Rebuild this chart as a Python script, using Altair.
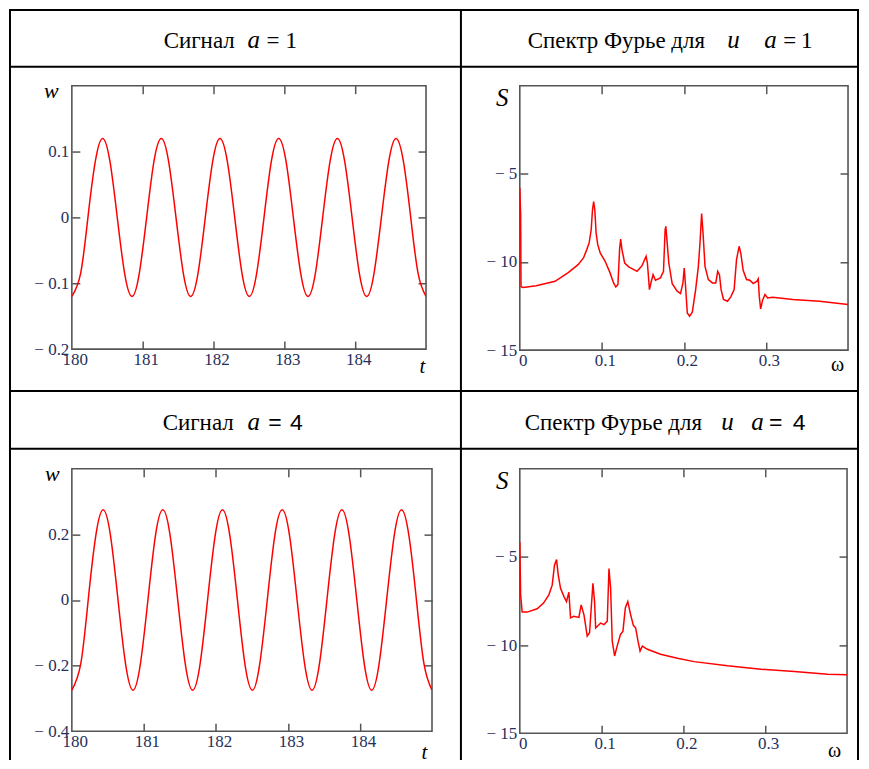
import altair as alt
import pandas as pd

# ---------------- data ----------------
t_vals = [180.0, 180.124, 180.227, 180.331, 180.434, 180.538, 180.641, 180.745,
          180.849, 180.952, 181.056, 181.159, 181.263, 181.366, 181.470, 181.574,
          181.677, 181.781, 181.884, 181.988, 182.091, 182.195, 182.299, 182.402,
          182.506, 182.609, 182.713, 182.816, 182.920, 183.024, 183.127, 183.231,
          183.334, 183.438, 183.541, 183.645, 183.749, 183.852, 183.956, 184.059,
          184.163, 184.266, 184.370, 184.474, 184.577, 184.681, 184.784, 184.888,
          185.0]
w_a1 = [-0.12, -0.085, 0.0, 0.085, 0.12, 0.085, 0.0, -0.085,
        -0.12, -0.085, 0.0, 0.085, 0.12, 0.085, 0.0, -0.085,
        -0.12, -0.085, 0.0, 0.085, 0.12, 0.085, 0.0, -0.085,
        -0.12, -0.085, 0.0, 0.085, 0.12, 0.085, 0.0, -0.085,
        -0.12, -0.085, 0.0, 0.085, 0.12, 0.085, 0.0, -0.085,
        -0.12, -0.085, 0.0, 0.085, 0.12, 0.085, 0.0, -0.085,
        -0.12]
w_a4 = [-0.275, -0.194, 0.0, 0.194, 0.275, 0.194, 0.0, -0.194,
        -0.275, -0.194, 0.0, 0.194, 0.275, 0.194, 0.0, -0.194,
        -0.275, -0.194, 0.0, 0.194, 0.275, 0.194, 0.0, -0.194,
        -0.275, -0.194, 0.0, 0.194, 0.275, 0.194, 0.0, -0.194,
        -0.275, -0.194, 0.0, 0.194, 0.275, 0.194, 0.0, -0.194,
        -0.275, -0.194, 0.0, 0.194, 0.275, 0.194, 0.0, -0.194,
        -0.275]

om_a1 = [0.0, 0.001, 0.0015, 0.004, 0.02, 0.043, 0.059, 0.071, 0.0776, 0.0816,
         0.0845, 0.087, 0.0886, 0.090, 0.0914, 0.093, 0.095, 0.098, 0.104, 0.110,
         0.1143, 0.117, 0.1196, 0.1216, 0.1229, 0.1245, 0.1278, 0.1327, 0.1429, 0.149,
         0.1539, 0.1555, 0.158, 0.160, 0.1624, 0.1653, 0.1714, 0.1751, 0.1771, 0.178,
         0.1796, 0.1816, 0.1857, 0.1918, 0.1959, 0.1988, 0.2004, 0.202, 0.2041, 0.2069,
         0.2102, 0.2143, 0.2176, 0.2196, 0.2216, 0.2233, 0.2257, 0.2298, 0.2347, 0.2388,
         0.2412, 0.2433, 0.2453, 0.2482, 0.2531, 0.2571, 0.2612, 0.2641, 0.2673, 0.2694,
         0.2722, 0.2763, 0.2804, 0.2845, 0.289, 0.2906, 0.2918, 0.2935, 0.2959, 0.2988,
         0.302, 0.3082, 0.3327, 0.3653, 0.4]
S_a1 = [-5.8, -7.3, -11.4, -11.45, -11.35, -11.1, -10.6, -10.15, -9.77, -9.3,
        -8.92, -8.17, -7.04, -6.57, -7.04, -8.36, -9.02, -9.49, -9.96, -10.62,
        -11.19, -11.42, -11.28, -9.3, -8.7, -9.3, -10.06, -10.28, -10.53, -10.21,
        -9.68, -10.06, -11.57, -11.15, -10.72, -11.04, -10.9, -10.53, -8.17, -7.98,
        -8.92, -10.06, -11.23, -11.66, -11.79, -11.19, -10.34, -11.38, -12.89, -13.08,
        -12.85, -11.57, -10.25, -8.92, -7.26, -8.36, -10.25, -11.0, -11.19, -11.19,
        -10.53, -10.72, -11.57, -12.13, -12.23, -11.98, -11.57, -9.87, -9.11, -9.53,
        -10.47, -11.0, -11.04, -11.23, -11.09, -10.96, -11.94, -12.66, -12.17, -11.85,
        -12.04, -12.0, -12.13, -12.23, -12.42]

om_a4 = [0.0, 0.001, 0.0029, 0.009, 0.0212, 0.029, 0.0355, 0.0396, 0.0424, 0.0449,
         0.047, 0.0498, 0.054, 0.0571, 0.060, 0.062, 0.066, 0.0722, 0.075, 0.0784,
         0.0824, 0.0853, 0.0873, 0.0894, 0.0914, 0.0927, 0.0988, 0.1029, 0.1069, 0.109,
         0.111, 0.113, 0.1159, 0.119, 0.123, 0.1261, 0.129, 0.132, 0.1355, 0.1388,
         0.1416, 0.1445, 0.147, 0.1498, 0.156, 0.172, 0.1927, 0.213, 0.2539, 0.2947,
         0.3355, 0.3763, 0.4]
S_a4 = [-4.16, -7.15, -8.13, -8.13, -7.94, -7.62, -7.15, -6.6, -5.47, -5.15,
        -6.03, -6.78, -7.25, -7.53, -7.0, -8.46, -8.37, -8.43, -7.72, -8.28,
        -9.49, -9.3, -7.9, -6.5, -7.53, -9.03, -8.75, -8.84, -8.65, -5.66,
        -6.78, -9.78, -10.62, -10.06, -9.4, -9.21, -7.9, -7.53, -8.28, -8.88,
        -9.03, -9.78, -10.34, -10.06, -10.24, -10.52, -10.75, -10.94, -11.18, -11.37,
        -11.5, -11.65, -11.69]

t_labels = [180, 181, 182, 183, 184]
t_inner = [181, 182, 183, 184]
w1_labels = [-0.2, -0.1, 0, 0.1]
w1_inner = [-0.1, 0, 0.1]
w4_labels = [-0.4, -0.2, 0, 0.2]
w4_inner = [-0.2, 0, 0.2]
om_labels = [0, 0.1, 0.2, 0.3]
om_inner = [0.1, 0.2, 0.3]
S_labels = [-15, -10, -5]
S_inner = [-10, -5]

# ---------------- styling ----------------
SERIF = "Liberation Serif"
SANS = "Liberation Sans"
FRAME = "#555555"
LABEL = "#26305c"
RED = "#ff0000"
LEXPR = ("datum.value < 0 ? '\u2212 ' + format(-datum.value, '.1~f') "
         ": format(datum.value, '.1~f')")

one = pd.DataFrame({"k": [0]})


def panel(df, xf, yf, xdom, ydom, xlab, ylab, xin, yin, W, H,
          xtitle, xtx, xty, xtsize, xtstyle,
          ytitle, ytx, yty, ytsize, ytstyle, interp):
    xs = alt.Scale(domain=xdom, nice=False, zero=False)
    ys = alt.Scale(domain=ydom, nice=False, zero=False)
    common = dict(grid=False, domain=False, labelFont=SERIF, labelFontSize=17,
                  labelColor=LABEL, labelExpr=LEXPR, labelFlush=False,
                  labelOverlap=False, ticks=False, tickSize=0,
                  titleFont=SERIF, titleColor="black", titleFontWeight="normal",
                  titleAngle=0, titleAlign="center", titleBaseline="alphabetic")
    base = alt.Chart(df)
    line = base.mark_line(color=RED, strokeWidth=1.5, clip=True,
                          interpolate=interp).encode(
        x=alt.X(f"{xf}:Q", scale=xs,
                axis=alt.Axis(orient="bottom", values=xlab, labelPadding=2,
                              labelOffset=3,
                              title=xtitle, titleX=xtx, titleY=xty,
                              titleFontSize=xtsize, titleFontStyle=xtstyle,
                              **common)),
        y=alt.Y(f"{yf}:Q", scale=ys,
                axis=alt.Axis(orient="left", values=ylab, labelPadding=3,
                              title=ytitle, titleX=ytx, titleY=yty,
                              titleFontSize=ytsize, titleFontStyle=ytstyle,
                              **common)),
    )
    tick = dict(labels=False, ticks=True, tickSize=8, tickColor=FRAME,
                tickWidth=1.5, domain=False, grid=False, title=None)
    tk_a = base.mark_line(opacity=0).encode(
        x=alt.X(f"{xf}:Q", scale=xs,
                axis=alt.Axis(orient="top", offset=-H, values=xin, **tick)),
        y=alt.Y(f"{yf}:Q", scale=ys,
                axis=alt.Axis(orient="right", offset=-W, values=yin, **tick)),
    )
    tk_b = base.mark_line(opacity=0).encode(
        x=alt.X(f"{xf}:Q", scale=xs,
                axis=alt.Axis(orient="bottom", offset=-H, values=xin, **tick)),
        y=alt.Y(f"{yf}:Q", scale=ys,
                axis=alt.Axis(orient="left", offset=-W, values=yin, **tick)),
    )
    return [line, tk_a, tk_b]


def txt(s, x, y, size, font=SERIF, style="normal", align="left"):
    return alt.Chart(one).mark_text(
        text=s, font=font, fontSize=size, fontStyle=style, align=align,
        baseline="alphabetic", color="black").encode(
        x=alt.value(x), y=alt.value(y))


def hline(y, x1, x2):
    return alt.Chart(one).mark_rule(color="black", strokeWidth=2).encode(
        y=alt.value(y), x=alt.value(x1), x2=alt.value(x2))


def vline(x, y1, y2):
    return alt.Chart(one).mark_rule(color="black", strokeWidth=2).encode(
        x=alt.value(x), y=alt.value(y1), y2=alt.value(y2))


df1 = pd.DataFrame({"t": t_vals, "w": w_a1})
df4 = pd.DataFrame({"t": t_vals, "w": w_a4})
ds1 = pd.DataFrame({"om": om_a1, "S": S_a1})
ds4 = pd.DataFrame({"om": om_a4, "S": S_a4})

W1, H1 = 355, 264
W2, H2 = 329, 265
W3, H3 = 361, 263
W4, H4 = 328, 265

# table lines and headers, placed relative to the first panel
L, M, R = -62, 390, 788
T, B = -76, 676
decor = [
    hline(T, L - 1, R + 1), hline(-19, L, R), hline(306, L, R), hline(364, L, R),
    vline(L, T - 1, B), vline(M, T, B), vline(R, T - 1, B),
    # row 1 headers
    txt("Сигнал", 92, -38, 23),
    txt("a", 176, -38, 25, style="italic"),
    txt("=", 201.5, -38, 23, align="center"),
    txt("1", 220, -38, 24, align="center"),
    txt("Спектр Фурье для", 457, -38, 23),
    txt("u", 657, -38, 25, style="italic"),
    txt("a", 694, -38, 25, style="italic"),
    txt("=", 719.5, -38, 23, align="center"),
    txt("1", 736.5, -38, 24, align="center"),
    # row 2 headers
    txt("Сигнал", 91, 345, 23),
    txt("a", 176, 345, 25, style="italic"),
    txt("=", 203.5, 345, 23, font=SANS, align="center"),
    txt("4", 225, 345, 23, font=SANS, align="center"),
    txt("Спектр Фурье для", 454, 345, 23),
    txt("u", 651, 345, 25, style="italic"),
    txt("a", 681, 345, 25, style="italic"),
    txt("=", 705.5, 345, 23, font=SANS, align="center"),
    txt("4", 729, 345, 23, font=SANS, align="center"),
]

p1 = alt.layer(*panel(df1, "t", "w", [180, 185], [-0.2, 0.2], t_labels, w1_labels,
                      t_inner, w1_inner, W1, H1,
                      "t", W1 - 4, 23, 21, "italic", "w", -21, 12, 22, "italic",
                      "natural"), *decor
               ).resolve_axis(x="independent", y="independent").properties(
    width=W1, height=H1)
p2 = alt.layer(*panel(ds1, "om", "S", [0, 0.4], [-15, 0], om_labels, S_labels,
                      om_inner, S_inner, W2, H2,
                      "ω", W2 - 11, 20, 20, "normal", "S", -18, 20, 25, "italic",
                      "linear")
               ).resolve_axis(x="independent", y="independent").properties(
    width=W2, height=H2)
p3 = alt.layer(*panel(df4, "t", "w", [180, 185], [-0.4, 0.4], t_labels, w4_labels,
                      t_inner, w4_inner, W3, H3,
                      "t", W3 - 8, 27, 21, "italic", "w", -20, 12, 22, "italic",
                      "natural")
               ).resolve_axis(x="independent", y="independent").properties(
    width=W3, height=H3)
p4 = alt.layer(*panel(ds4, "om", "S", [0, 0.4], [-15, 0], om_labels, S_labels,
                      om_inner, S_inner, W4, H4,
                      "ω", W4 - 13, 23, 20, "normal", "S", -18, 20, 25, "italic",
                      "linear")
               ).resolve_axis(x="independent", y="independent").properties(
    width=W4, height=H4)

chart = alt.concat(p1, p2, p3, p4, columns=2,
                   spacing={"row": 119, "column": 88}, bounds="flush").properties(
    padding={"left": -1, "top": -2, "right": 0, "bottom": 0},
    background="white",
).configure_view(stroke=FRAME, strokeWidth=1.6)

chart.save("out.html", embed_options={"renderer": "svg", "actions": False})
